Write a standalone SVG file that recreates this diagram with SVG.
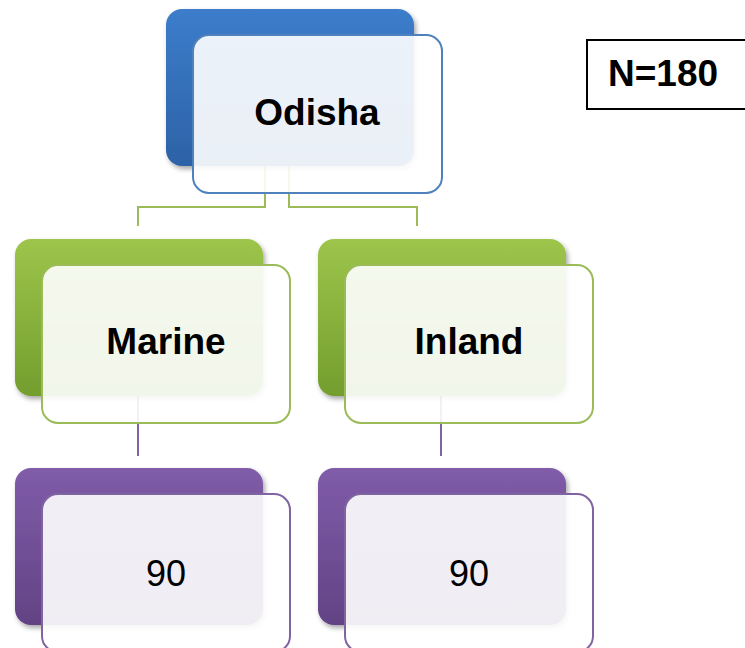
<svg xmlns="http://www.w3.org/2000/svg" width="745" height="648" viewBox="0 0 745 648">
<defs>
<linearGradient id="gBlue" x1="0" y1="0" x2="0" y2="1"><stop offset="0" stop-color="#3c7dcb"/><stop offset="1" stop-color="#2d62a6"/></linearGradient>
<linearGradient id="gGreen" x1="0" y1="0" x2="0" y2="1"><stop offset="0" stop-color="#9dc54b"/><stop offset="1" stop-color="#739e2e"/></linearGradient>
<linearGradient id="gPurple" x1="0" y1="0" x2="0" y2="1"><stop offset="0" stop-color="#805ca9"/><stop offset="1" stop-color="#624384"/></linearGradient>
<filter id="sh" x="-10%" y="-10%" width="130%" height="130%"><feDropShadow dx="2" dy="3" stdDeviation="2.5" flood-color="#000" flood-opacity="0.35"/></filter>
</defs>
<style>
.back{filter:url(#sh)}
.front{fill:#ffffff;fill-opacity:0.9;stroke-width:2}
.lbl{font-family:"Liberation Sans",Arial,sans-serif;font-size:36px;text-anchor:middle;fill:#000}
.b{font-weight:bold;font-size:37px}
.conG{fill:none;stroke:#9bbb59;stroke-width:2}
.conP{fill:none;stroke:#8064a2;stroke-width:2}
</style>
<g id="connectors">
<path class="conG" d="M265,165 V207 H138 V226"/>
<path class="conG" d="M289,165 V207 H417 V226"/>
<path class="conP" d="M138,396 V456"/>
<path class="conP" d="M441,396 V456"/>
</g>
<g id="odisha">
<rect class="back" x="166" y="9" width="248" height="157" rx="16" fill="url(#gBlue)"/>
<rect class="front" x="193" y="35" width="249" height="158" rx="16" stroke="#4f81bd"/>
<text class="lbl b" x="317" y="125">Odisha</text>
</g>
<g id="marine">
<rect class="back" x="15" y="239" width="248" height="157" rx="16" fill="url(#gGreen)"/>
<rect class="front" x="42" y="265" width="248" height="158" rx="16" stroke="#9bbb59"/>
<text class="lbl b" x="166" y="354">Marine</text>
</g>
<g id="inland">
<rect class="back" x="318" y="239" width="248" height="157" rx="16" fill="url(#gGreen)"/>
<rect class="front" x="345" y="265" width="248" height="158" rx="16" stroke="#9bbb59"/>
<text class="lbl b" x="469" y="354">Inland</text>
</g>
<g id="marine90">
<rect class="back" x="15" y="468" width="248" height="157" rx="16" fill="url(#gPurple)"/>
<rect class="front" x="42" y="494" width="248" height="158" rx="16" stroke="#8064a2"/>
<text class="lbl" x="166" y="586">90</text>
</g>
<g id="inland90">
<rect class="back" x="318" y="468" width="248" height="157" rx="16" fill="url(#gPurple)"/>
<rect class="front" x="345" y="494" width="248" height="158" rx="16" stroke="#8064a2"/>
<text class="lbl" x="469" y="586">90</text>
</g>
<g id="total">
<rect x="587" y="40" width="170" height="69" fill="#fff" stroke="#000" stroke-width="2"/>
<text class="lbl b" x="608" y="86" style="text-anchor:start">N=180</text>
</g>
</svg>
